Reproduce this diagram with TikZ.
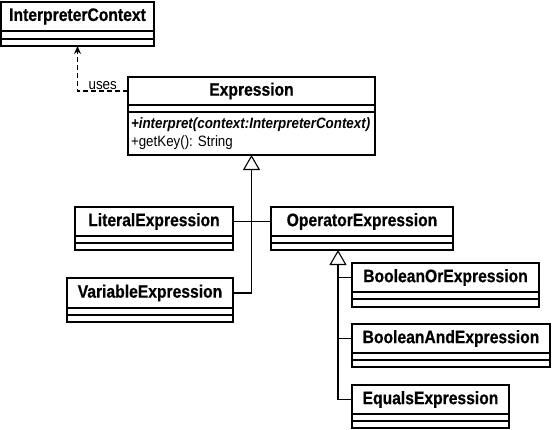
\documentclass[tikz,border=0pt]{standalone}
\usepackage{fontspec}
\setmainfont{Liberation Sans}[FakeStretch=0.89]
\newfontfamily\clsfont{Liberation Sans}[FakeStretch=0.87, BoldFeatures={FakeStretch=0.87, FakeBold=0.6}]
\usetikzlibrary{positioning,arrows.meta}

\tikzset{
	clsname/.style={draw, line width=1.1pt, outer sep=0pt, inner sep=2pt, minimum height=29pt, font=\clsfont\fontsize{18}{21}\selectfont\bfseries, anchor=north west},
	cpt/.style={draw, line width=1.1pt, outer sep=0pt, inner sep=0pt, minimum height=7pt, below=0pt of #1},
	inherit/.style={line width=1.1pt, -{Triangle[open, width=17pt, length=15pt, line width=1.1pt]}},
	dep/.style={line width=1.1pt, dash pattern=on 5pt off 3pt, -{Stealth[length=8pt, width=7pt]}}
}

\begin{document}
\frenchspacing
\begin{tikzpicture}[x=1pt, y=-1pt]
	\useasboundingbox (0,0) rectangle (552,429);
	% classes
	\node[clsname, minimum width=153pt] (ctx) at (1,2) {InterpreterContext};
	\node[cpt=ctx, minimum width=153pt, minimum height=8pt] (ctxa) {};
	\node[cpt=ctxa, minimum width=153pt] (ctxm) {};

	\node[clsname, minimum width=247pt, minimum height=28pt] (expr) at (128,77) {Expression};
	\node[cpt=expr, minimum width=247pt] (expra) {};
	\node[cpt=expra, minimum width=247pt, minimum height=43pt, text width=241pt, inner xsep=3pt, align=left, font=\fontsize{15}{18}\selectfont] (exprm) {\textbf{\textit{+interpret(context:InterpreterContext)}}\\+getKey(): String};

	\node[clsname, minimum width=158pt] (lit) at (75,207) {LiteralExpression};
	\node[cpt=lit, minimum width=158pt] (lita) {};
	\node[cpt=lita, minimum width=158pt] (litm) {};

	\node[clsname, minimum width=166pt, minimum height=30pt] (var) at (67,278) {VariableExpression};
	\node[cpt=var, minimum width=166pt] (vara) {};
	\node[cpt=vara, minimum width=166pt] (varm) {};

	\node[clsname, minimum width=182pt] (op) at (271,207) {OperatorExpression};
	\node[cpt=op, minimum width=182pt] (opa) {};
	\node[cpt=opa, minimum width=182pt] (opm) {};

	\node[clsname, minimum width=187pt] (bor) at (352,263) {BooleanOrExpression};
	\node[cpt=bor, minimum width=187pt] (bora) {};
	\node[cpt=bora, minimum width=187pt, minimum height=8pt] (borm) {};

	\node[clsname, minimum width=198pt] (band) at (352,324) {BooleanAndExpression};
	\node[cpt=band, minimum width=198pt] (banda) {};
	\node[cpt=banda, minimum width=198pt] (bandm) {};

	\node[clsname, minimum width=157pt] (eq) at (352,385) {EqualsExpression};
	\node[cpt=eq, minimum width=157pt] (eqa) {};
	\node[cpt=eqa, minimum width=157pt] (eqm) {};

	% connectors
	\draw[dep] (expr.west) -| node[pos=0.25, above, inner sep=1pt, font=\fontsize{15}{17}\selectfont] {uses} (ctxm.south);
	\draw[inherit] (var.east) -| (exprm.south);
	\draw[line width=1.1pt] (lit.east) -- (op.west);
	\coordinate (optri) at ([xshift=-24pt]opm.south);
	\draw[inherit] (eq.west) -| (optri);
	\draw[line width=1.1pt] (bor.west) -- (bor.west -| optri);
	\draw[line width=1.1pt] (band.west) -- (band.west -| optri);
\end{tikzpicture}
\end{document}
